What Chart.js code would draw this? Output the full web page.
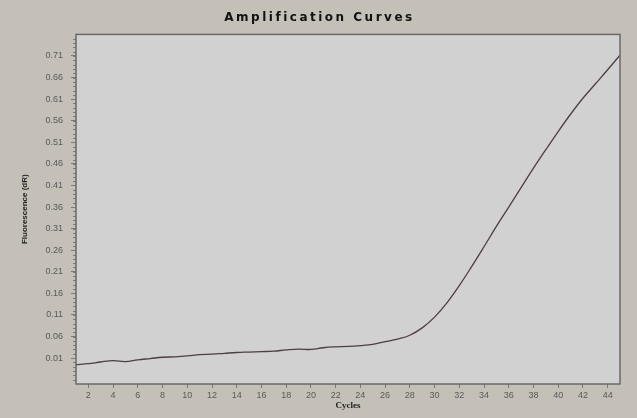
<!DOCTYPE html>
<html lang="en">
<head>
  <meta charset="UTF-8" />
  <title>Amplification Curves</title>
  <script src="https://cdn.jsdelivr.net/npm/chart.js"></script>
  <style>
    html, body { margin: 0; padding: 0; background: #c4bfb7; }
    #wrap { width: 637px; height: 418px; }
  </style>
</head>
<body>
  <div id="wrap"><canvas id="amp"></canvas></div>

  <script>
    // cycle numbers and fluorescence
    const cycles = [1,2,3,4,5,6,7,8,9,10,11,12,13,14,15,16,17,18,19,20,21,22,23,
                    24,25,26,27,28,29,30,31,32,33,34,35,36,37,38,39,40,41,42,43,44,45];
    const fluorescence = [-0.005,-0.003,0.001,0.004,0.002,0.006,0.009,0.012,0.013,0.015,
                          0.018,0.019,0.021,0.023,0.024,0.025,0.026,0.029,0.031,0.030,
                          0.034,0.036,0.037,0.039,0.042,0.048,0.054,0.063,0.080,0.105,
                          0.138,0.178,0.222,0.268,0.315,0.360,0.405,0.450,0.493,0.535,
                          0.575,0.612,0.645,0.678,0.712];
    const xTicks = [2,4,6,8,10,12,14,16,18,20,22,24,26,28,30,32,34,36,38,40,42,44];
    const yTicks = [0.01,0.06,0.11,0.16,0.21,0.26,0.31,0.36,0.41,0.46,0.51,0.56,0.61,0.66,0.71];

    const OUTER = '#c4bfb7', PLOT = '#d1d1d1', INK = '#5a5a5a';

    const frame = {
      id: 'frame',
      afterLayout(chart) {
        // spaced-out title lettering, centred on the whole canvas
        const tb = chart.titleBlock;
        if (tb && !tb._spaced) {
          const draw = tb.draw.bind(tb);
          tb.draw = () => {
            const ctx = chart.ctx;
            ctx.save();
            ctx.letterSpacing = '2.5px';
            ctx.translate(chart.width / 2 - (tb.left + tb.right) / 2 + 1, 0);
            draw();
            ctx.restore();
          };
          tb._spaced = true;
        }
      },
      beforeDraw(chart) {
        const { ctx, chartArea: a } = chart;
        ctx.save();
        ctx.fillStyle = OUTER;
        ctx.fillRect(0, 0, chart.width, chart.height);
        ctx.fillStyle = PLOT;
        ctx.fillRect(a.left, a.top, a.right - a.left, a.bottom - a.top);
        ctx.restore();
      },
      afterDraw(chart) {
        const { ctx, chartArea: a } = chart;
        const y = chart.scales.y;
        ctx.save();
        // minor ticks on the y axis
        ctx.strokeStyle = '#7e7e7e';
        ctx.lineWidth = 1;
        ctx.beginPath();
        for (let v = -0.05; v <= 0.76; v += 0.01) {
          const py = Math.round(y.getPixelForValue(v)) + 0.5;
          if (py < a.top || py > a.bottom) continue;
          ctx.moveTo(a.left - 3, py);
          ctx.lineTo(a.left, py);
        }
        ctx.stroke();
        ctx.strokeStyle = '#6a6a6a';
        ctx.lineWidth = 1.5;
        ctx.strokeRect(a.left, a.top, a.right - a.left, a.bottom - a.top);
        ctx.restore();
      }
    };

    new Chart(document.getElementById('amp'), {
      type: 'line',
      data: {
        labels: cycles,
        datasets: [{
          data: cycles.map((c, i) => ({ x: c, y: fluorescence[i] })),
          borderColor: '#4e3d44',
          borderWidth: 1.3,
          pointRadius: 0,
          tension: 0.4,
          fill: false
        }]
      },
      options: {
        responsive: true,
        maintainAspectRatio: false,
        animation: false,
        layout: { padding: { left: 0, right: 17, top: 0, bottom: 0 } },
        plugins: {
          legend: { display: false },
          tooltip: { enabled: false },
          title: {
            display: true,
            text: 'Amplification Curves',
            color: '#111',
            font: { family: 'DejaVu Sans', size: 12, weight: 'bold' },
            padding: { top: 11, bottom: 9 }
          }
        },
        scales: {
          x: {
            type: 'linear',
            min: 1,
            max: 45,
            afterBuildTicks: s => { s.ticks = xTicks.map(v => ({ value: v })); },
            afterFit: s => { s.height = 34; },
            grid: { drawOnChartArea: false, drawTicks: true, tickLength: 4, color: '#7a7a7a' },
            border: { display: false },
            ticks: {
              color: INK,
              padding: 2,
              maxRotation: 0,
              font: { family: 'Liberation Sans', size: 9 }
            },
            title: {
              display: true,
              text: 'Cycles',
              color: '#222',
              font: { family: 'Liberation Serif', size: 9, weight: 'bold' },
              padding: { top: 0, bottom: 7 }
            }
          },
          y: {
            min: -0.05,
            max: 0.76,
            afterBuildTicks: s => { s.ticks = yTicks.map(v => ({ value: v })); },
            afterFit: s => { s.width = 76; },
            grid: { drawOnChartArea: false, drawTicks: true, tickLength: 5, color: '#7a7a7a' },
            border: { display: false },
            ticks: {
              color: INK,
              padding: 8,
              font: { family: 'Liberation Sans', size: 9 },
              callback: v => v.toFixed(2)
            },
            title: {
              display: true,
              text: 'Fluorescence (dR)',
              color: '#222',
              font: { family: 'Liberation Sans', size: 8, weight: 'bold' },
              padding: { top: 20, bottom: 0 }
            }
          }
        }
      },
      plugins: [frame]
    });
  </script>
</body>
</html>
